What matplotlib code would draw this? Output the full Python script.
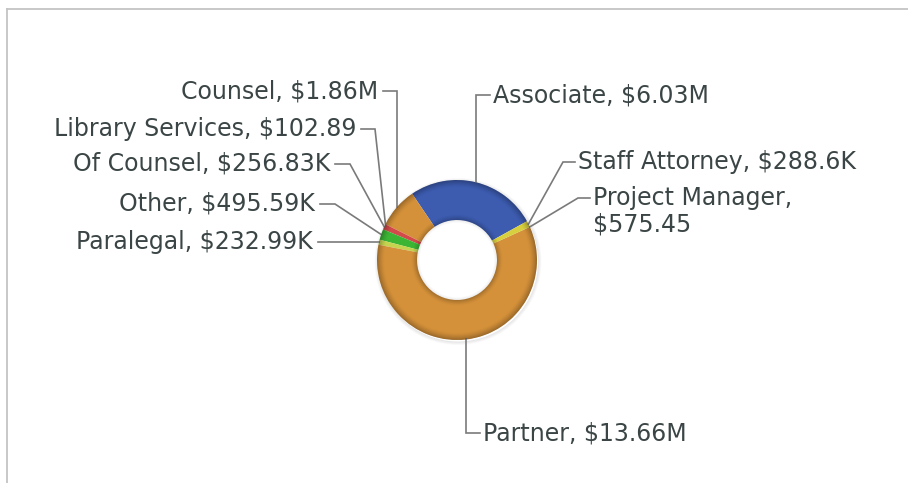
import matplotlib
matplotlib.use('Agg')
import matplotlib.pyplot as plt
import numpy as np
from matplotlib.patches import Wedge
from matplotlib.lines import Line2D

categories = ['Associate', 'Counsel', 'Library Services', 'Of Counsel', 'Other',
              'Paralegal', 'Partner', 'Project Manager', 'Staff Attorney']
values = [6030000, 1860000, 102.89, 256830, 495590, 232990, 13660000, 575.45, 288600]
value_labels = ['$6.03M', '$1.86M', '$102.89', '$256.83K', '$495.59K',
                '$232.99K', '$13.66M', '$575.45', '$288.6K']
colors = ['#3d5cb0', '#d4913a', '#c9a0d0', '#d24a4a', '#3cb535',
          '#c4d44e', '#d4913a', '#d8cf3e', '#d8cf3e']

W, H = 908, 483
fig = plt.figure(figsize=(W / 100, H / 100), dpi=100)
ax = fig.add_axes([0, 0, 1, 1])

cx, cy = 457, H - 260
R = 80
RW = 40
wedges, _ = ax.pie(values, colors=colors, startangle=29, counterclock=True,
                   radius=R, center=(cx, cy),
                   wedgeprops=dict(width=RW, linewidth=0, antialiased=True))
ax.set_xlim(0, W)
ax.set_ylim(0, H)
ax.set_aspect('equal')
ax.axis('off')

# soft drop shadow outside
for i in range(6):
    ax.add_patch(Wedge((cx + 1, cy - 1.5), R + 0.6 * (i + 1), 0, 360, width=0.6,
                       facecolor='black', alpha=0.10 * (1 - i / 6), lw=0, zorder=0))
# bevel shading on the edges
for i in range(9):
    ax.add_patch(Wedge((cx, cy), R - i * 0.8, 0, 360, width=0.8,
                       facecolor='black', alpha=0.28 * (1 - i / 9) ** 1.5, lw=0, zorder=3))
for i in range(7):
    ax.add_patch(Wedge((cx, cy), R - RW + (i + 1) * 0.8, 0, 360, width=0.8,
                       facecolor='black', alpha=0.22 * (1 - i / 7) ** 1.5, lw=0, zorder=3))
# inner shadow on hole
for i in range(4):
    ax.add_patch(Wedge((cx, cy), R - RW - i * 0.7, 0, 360, width=0.7,
                       facecolor='black', alpha=0.07 * (1 - i / 4), lw=0, zorder=3))

# label layout: (text x, text y from top, ha, elbow x or None -> anchor x)
layout = {
    'Associate':        (493, 95, 'left', None),
    'Counsel':          (378, 91, 'right', None),
    'Library Services': (356, 129, 'right', 375),
    'Of Counsel':       (330, 164, 'right', 350),
    'Other':            (315, 204, 'right', 335),
    'Paralegal':        (313, 242, 'right', None),
    'Partner':          (483, 433, 'left', None),
    'Staff Attorney':   (578, 162, 'left', 563),
    'Project Manager':  (593, 198, 'left', 578),
}

fs = 17
tcol = '#3b4545'
lcol = '#7a7a7a'
for wdg, cat, vl in zip(wedges, categories, value_labels):
    mid = np.deg2rad((wdg.theta1 + wdg.theta2) / 2)
    axp = cx + R * np.cos(mid)
    ayp = cy + R * np.sin(mid)
    tx, ty, ha, ex = layout[cat]
    ty_d = H - ty
    if ex is None:
        ex = axp
    lend = tx - 3 if ha == 'left' else tx + 5
    ax.add_line(Line2D([axp, ex, lend], [ayp, ty_d, ty_d], color=lcol, lw=1.2,
                       zorder=1, solid_joinstyle='miter'))
    if cat == 'Project Manager':
        ax.text(tx, ty_d + 12, 'Project Manager,\n' + vl, ha='left', va='top',
                fontsize=fs, color=tcol, linespacing=1.12)
    else:
        ax.text(tx, ty_d, f'{cat}, {vl}', ha=ha, va='center', fontsize=fs, color=tcol)

# frame lines (top and left)
ax.add_line(Line2D([6.5, W], [H - 8.5, H - 8.5], color='#c4c4c4', lw=1.3))
ax.add_line(Line2D([6.5, 6.5], [0, H - 8.5], color='#c4c4c4', lw=1.3))

fig.savefig('out.png', dpi=100)
